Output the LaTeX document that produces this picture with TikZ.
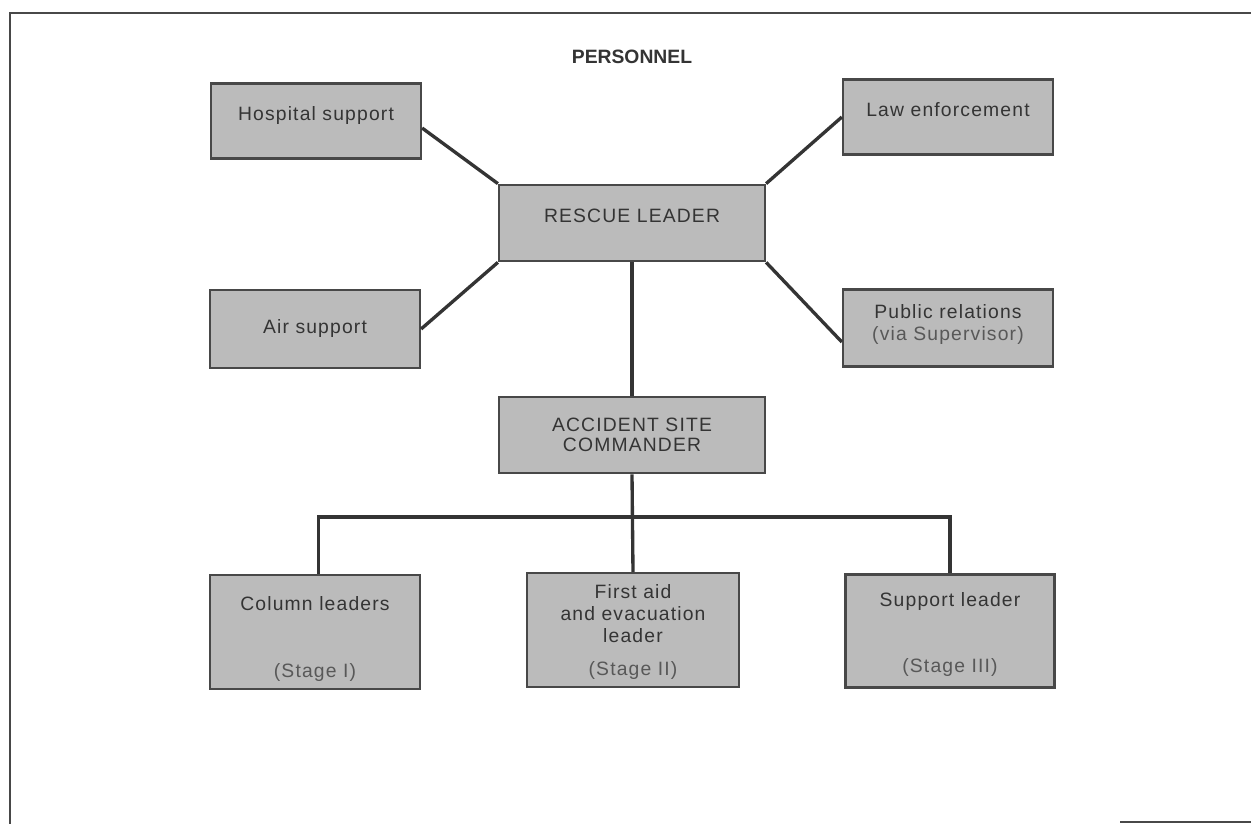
\documentclass[tikz,border=0pt]{standalone}
\usepackage{fontspec}
\setmainfont{Liberation Sans}
\newfontfamily\labfont[LetterSpace=6]{Liberation Sans}
\usetikzlibrary{positioning}
\definecolor{boxfill}{RGB}{187,187,187}
\definecolor{boxline}{RGB}{72,72,72}
\definecolor{ink}{RGB}{52,52,52}
\definecolor{inklight}{RGB}{88,88,88}
\begin{document}
\begin{tikzpicture}[x=0.02cm, y=-0.02cm]
  % Styles
  \tikzset{
    box/.style={draw=boxline, fill=boxfill, line width=1.3pt, inner sep=2pt,
      minimum width=4.2cm, minimum height=1.5cm, align=center,
      text=ink, font=\labfont\fontsize{11}{12.5}\selectfont},
    bigbox/.style={box, minimum width=5.32cm, minimum height=1.53cm},
    lowbox/.style={box, minimum height=2.28cm},
    lab/.style={text=ink, align=center, inner sep=0pt,
      font=\labfont\fontsize{11}{12.5}\selectfont},
    stage/.style={lab, text=inklight},
    link/.style={draw=ink, line width=1.9pt},
    frame/.style={draw=boxline, line width=1.1pt},
  }

  \useasboundingbox (0,0) rectangle (1251,824);

  % Cadre
  \draw[frame] (10,824) -- (10,13) -- (1251,13);
  \draw[frame] (1120,822) -- (1251,822);

  % Titre
  \node[font=\bfseries\fontsize{11}{12}\selectfont, text=ink] (titre) at (632,57) {PERSONNEL};

  % Boites
  \node[box] (hosp) at (316,121) {Hospital support\\[-4.5pt]};
  \node[box] (law) at (948,117) {Law enforcement\\[-4.5pt]};
  \node[bigbox] (rescue) at (632,223) {RESCUE LEADER\\[-4.5pt]};
  \node[box, minimum height=1.56cm] (air) at (315,329) {Air support};
  \node[box, minimum height=1.54cm] (pr) at (948,328) {Public relations\\{\color{inklight}(via Supervisor)}\\[-6pt]};
  \node[bigbox] (asc) at (632,435) {ACCIDENT SITE\\[-1pt]COMMANDER};
  \node[lowbox] (col) at (315,632) {};
  \node[lowbox, minimum width=4.24cm] (aid) at (633,630) {};
  \node[lowbox, minimum width=4.18cm, minimum height=2.26cm] (sup) at (950,631) {};

  % Textes des boites du bas
  \node[lab, below=17pt of col.north, anchor=center] (coltxt) {Column leaders};
  \node[stage, above=10pt of col.south, anchor=center] (colst) {(Stage I)};
  \node[lab, below=7pt of aid.north, anchor=north] (aidtxt) {First aid\\and evacuation\\leader};
  \node[stage, above=10pt of aid.south, anchor=center] (aidst) {(Stage II)};
  \node[lab, below=16pt of sup.north, anchor=center] (suptxt) {Support leader};
  \node[stage, above=12pt of sup.south, anchor=center] (supst) {(Stage III)};

  % Liaisons
  \draw[link] ([yshift=-4]hosp.east) -- (rescue.north west);
  \draw[link] (law.west) -- (rescue.north east);
  \draw[link] (air.east) -- (rescue.south west);
  \draw[link] ([yshift=-8]pr.west) -- (rescue.south east);
  \draw[link] (rescue.south) -- (asc.north);

  \coordinate (bus) at (632,517);
  \draw[link] (asc.south) -- (aid.north);
  \draw[link] ([xshift=2]col.north) |- (bus) -| (sup.north);

\end{tikzpicture}
\end{document}
